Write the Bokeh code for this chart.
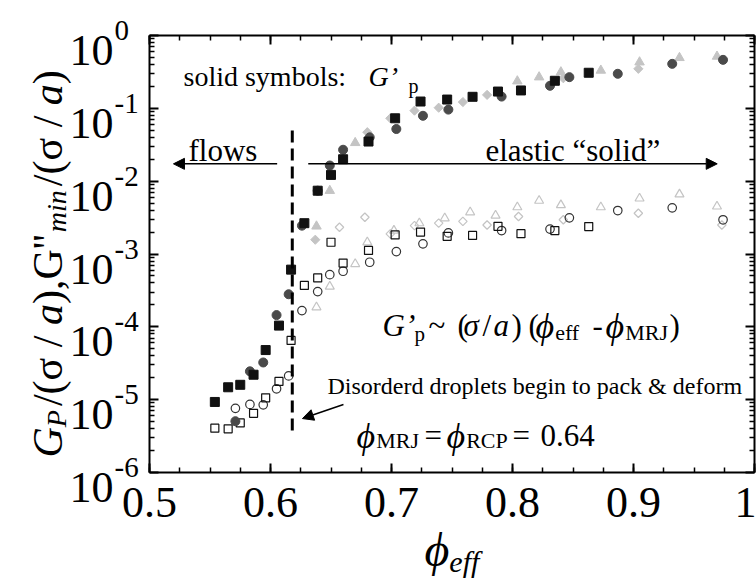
import math
import glob
from bokeh.plotting import figure
from bokeh.models import (LinearAxis, LogAxis, FixedTicker, Label, Arrow, NormalHead,
                          Range1d)
from bokeh.embed import file_html
from bokeh.resources import INLINE

# ---------------- data ----------------
# black squares
sq_phi = [0.554, 0.565, 0.575, 0.586, 0.596, 0.607, 0.617, 0.628, 0.639, 0.650,
          0.660, 0.681, 0.703, 0.724, 0.746, 0.767, 0.788, 0.807, 0.835, 0.863]
sq_Gp = [9.3e-6, 1.48e-5, 1.6e-5, 2.2e-5, 4.8e-5, 1.04e-4, 6.1e-4, 2.65e-3, 7.4e-3, 1.22e-2,
         2.0e-2, 3.5e-2, 7.3e-2, 0.124, 0.132, 0.144, 0.170, 0.176, 0.239, 0.308]
sq_Gmin = [4.06e-6, 3.98e-6, 4.8e-6, 6.5e-6, 1.06e-5, 1.78e-5, 6.5e-5, 3.7e-4, 4.7e-4, 1.45e-3,
           7.5e-4, 1.12e-3, 1.83e-3, 2.0e-3, 1.75e-3, 1.8e-3, 2.4e-3, 1.9e-3, 2.1e-3, 2.38e-3]

# dark grey circles
ci_phi = [0.571, 0.583, 0.594, 0.605, 0.615, 0.626, 0.639, 0.649, 0.660, 0.682,
          0.704, 0.726, 0.747, 0.791, 0.831, 0.847, 0.887, 0.932, 0.974]
ci_Gp = [5.06e-6, 2.45e-5, 3.24e-5, 1.45e-4, 2.8e-4, 2.45e-3, 7.4e-3, 1.64e-2, 2.7e-2, 4.0e-2,
         5.2e-2, 7.9e-2, 9.6e-2, 0.145, 0.204, 0.268, 0.298, 0.408, 0.463]
ci_Gmin = [7.6e-6, 8.6e-6, 8.5e-6, 1.41e-5, 2.12e-5, 1.67e-4, 3.05e-4, 5.2e-4, 5.8e-4, 7.7e-4,
           1.08e-3, 1.38e-3, 1.95e-3, 2.1e-3, 2.2e-3, 3.14e-3, 3.95e-3, 4.3e-3, 2.95e-3]

# light grey triangles
tr_phi_Gp = [0.638, 0.649, 0.670, 0.804, 0.822, 0.840, 0.873, 0.905, 0.938, 0.969]
tr_Gp = [2.4e-3, 7.4e-3, 3.36e-2, 0.236, 0.268, 0.314, 0.331, 0.43, 0.494, 0.515]
tr_phi_Gmin = [0.638, 0.649, 0.670, 0.680, 0.702, 0.723, 0.744, 0.765, 0.786, 0.804,
               0.822, 0.840, 0.873, 0.905, 0.938, 0.969]
tr_Gmin = [1.86e-4, 3.58e-4, 7.3e-4, 1.45e-3, 2.1e-3, 2.65e-3, 3.1e-3, 3.75e-3, 3.38e-3, 4.4e-3,
           5.4e-3, 4.7e-3, 4.4e-3, 5.8e-3, 6.6e-3, 4.5e-3]

# light grey diamonds
di_phi_Gp = [0.637, 0.680, 0.699, 0.719, 0.739, 0.759, 0.779, 0.842, 0.904]
di_Gp = [1.57e-3, 4.7e-2, 7.3e-2, 9.3e-2, 0.102, 0.122, 0.153, 0.259, 0.349]
di_phi_Gmin = [0.657, 0.678, 0.699, 0.719, 0.739, 0.759, 0.779, 0.805, 0.842, 0.904, 0.973]
di_Gmin = [2.33e-3, 3.2e-3, 1.89e-3, 2.45e-3, 2.65e-3, 2.8e-3, 2.5e-3, 3.27e-3, 2.95e-3,
           3.63e-3, 2.5e-3]

# axes
x_ticks = [0.5, 0.6, 0.7, 0.8, 0.9, 1.0]
x_tick_labels = ["0.5", "0.6", "0.7", "0.8", "0.9", "1"]
y_ticks = [1e-6, 1e-5, 1e-4, 1e-3, 1e-2, 1e-1, 1e0]
y_tick_exps = ["-6", "-5", "-4", "-3", "-2", "-1", "0"]
X_MIN, X_MAX = 0.5, 1.0
Y_MIN, Y_MAX = 1e-6, 1.0
phi_line = 0.618

# ---------------- layout constants ----------------
W, H = 756, 582
FL, FT, FR, FB = 149, 35, 754, 472          # where the data box sits on the canvas
SERIF = "Liberation Serif"

ppx = (FR - FL) / (X_MAX - X_MIN)
ppd = (FB - FT) / (math.log10(Y_MAX) - math.log10(Y_MIN))
x0 = X_MIN - FL / ppx
x1 = X_MAX + (W - FR) / ppx
y0 = 10 ** (math.log10(Y_MIN) - (H - FB) / ppd)
y1 = 10 ** (math.log10(Y_MAX) + FT / ppd)

p = figure(width=W, height=H, x_range=Range1d(x0, x1), y_range=Range1d(y0, y1),
           y_axis_type="log", x_axis_location=None, y_axis_location=None,
           output_backend="svg", toolbar_location=None, min_border=0)
p.min_border_left = p.min_border_right = p.min_border_top = p.min_border_bottom = 0
p.grid.visible = False
p.outline_line_color = None
p.background_fill_color = "white"
p.border_fill_color = "white"

x_minor = [round(0.5 + 0.025 * i, 4) for i in range(21)]
y_minor = [m * 10.0 ** e for e in range(-6, 0) for m in range(2, 10)]


def style_axis(ax, labels=False):
    ax.axis_line_width = 2
    ax.axis_line_color = "black"
    ax.major_tick_line_width = 2
    ax.minor_tick_line_width = 1.5
    ax.major_tick_in = 9
    ax.major_tick_out = 0
    ax.minor_tick_in = 5
    ax.minor_tick_out = 0
    ax.axis_label = None
    if not labels:
        ax.major_label_text_color = None
        ax.major_label_text_font_size = "1px"
        ax.major_label_standoff = 0


xb = LinearAxis(ticker=FixedTicker(ticks=x_ticks, minor_ticks=x_minor),
                fixed_location=Y_MIN, bounds=(X_MIN, X_MAX))
style_axis(xb, labels=True)
xb.major_label_overrides = {t: l for t, l in zip(x_ticks, x_tick_labels)}
xb.major_label_text_font = SERIF
xb.major_label_text_font_size = "44px"
xb.major_label_text_color = "black"
xb.major_label_standoff = 15
p.add_layout(xb, "below")

xt = LinearAxis(ticker=FixedTicker(ticks=x_ticks, minor_ticks=x_minor),
                fixed_location=Y_MAX, bounds=(X_MIN, X_MAX))
style_axis(xt)
p.add_layout(xt, "above")

yl = LogAxis(ticker=FixedTicker(ticks=y_ticks, minor_ticks=y_minor),
             fixed_location=X_MIN, bounds=(Y_MIN, Y_MAX))
style_axis(yl)
p.add_layout(yl, "left")

yr = LogAxis(ticker=FixedTicker(ticks=y_ticks, minor_ticks=y_minor),
             fixed_location=X_MAX, bounds=(Y_MIN, Y_MAX))
style_axis(yr)
p.add_layout(yr, "right")


# ---------------- text helpers ----------------
_fonts = {}


def _font(size, italic):
    key = (size, italic)
    if key not in _fonts:
        f = None
        try:
            from PIL import ImageFont
            name = "LiberationSerif-Italic.ttf" if italic else "LiberationSerif-Regular.ttf"
            paths = glob.glob("/usr/share/fonts/**/" + name, recursive=True)
            if paths:
                f = ImageFont.truetype(paths[0], size)
        except Exception:
            f = None
        _fonts[key] = f
    return _fonts[key]


def tw(s, size, italic=False):
    f = _font(size, italic)
    if f is not None:
        try:
            return f.getlength(s)
        except Exception:
            pass
    return 0.47 * size * len(s)


def txt(s, px, py, size, italic=False, angle=0.0, align="left", baseline="alphabetic"):
    p.add_layout(Label(x=px, y=H - py, x_units="screen", y_units="screen", text=s,
                       text_font=SERIF, text_font_size=f"{size}px",
                       text_font_style="italic" if italic else "normal",
                       angle=angle, text_align=align, text_baseline=baseline,
                       text_color="black"))


def run(pieces, px, py, vertical=False):
    """pieces: (text, size, italic, baseline_shift, gap_before); outer spaces become gaps"""
    pos = px if not vertical else py
    sign = -1 if vertical else 1
    for s, sz, it, sh, gap in pieces:
        lead = len(s) - len(s.lstrip(" "))
        trail = len(s) - len(s.rstrip(" "))
        core = s.strip(" ")
        sp = tw(" ", sz, it)
        pos += sign * (gap + lead * sp)
        if vertical:
            txt(core, px + sh, pos, sz, italic=it, angle=math.pi / 2)
        else:
            txt(core, pos, py + sh, sz, italic=it)
        pos += sign * (tw(core, sz, it) + trail * sp)
    return pos


def place(pieces, py):
    """pieces: (text, size, italic, x, baseline_shift) at fixed x positions"""
    for s, sz, it, x, sh in pieces:
        txt(s, x, py + sh, sz, italic=it)


def ypx(v):
    return FB - (math.log10(v) - math.log10(Y_MIN)) * ppd


# y tick labels: "10" with superscript exponent
for t, e in zip(y_ticks, y_tick_exps):
    py = ypx(t)
    txt("10", 113, py + 15, 44, align="right")
    txt(e, 114, py - 5, 29)

# y-axis label (rotated, composed)
run([("G", 42, True, 0, 0), ("P", 28, True, 9, 0), ("/(σ / ", 42, False, 0, 4),
     ("a", 42, True, 0, 0), ("),G''", 42, False, 0, 0), ("min", 28, True, 9, 2),
     ("/(σ / ", 42, False, 0, 4), ("a", 42, True, 0, 0), (")", 42, False, 0, 0)],
    47, 457, vertical=True)

# x-axis label
run([("ϕ", 48, True, 0, 0), ("eff", 30, True, 12, 0)], 424, 549)

# ---------------- data marks ----------------
LG = "#c4c4c4"
DG = "#4a4a4a"
# open symbols (G''min)
p.scatter(di_phi_Gmin, di_Gmin, marker="square", angle=math.pi / 4, size=6,
          fill_color=None, line_color=LG, line_width=1.2)
p.scatter(tr_phi_Gmin, tr_Gmin, marker="triangle", size=9, fill_color=None,
          line_color=LG, line_width=1.2)
p.scatter(ci_phi, ci_Gmin, marker="circle", size=8.5, fill_color=None,
          line_color="#333333", line_width=1.2)
p.scatter(sq_phi, sq_Gmin, marker="square", size=8, fill_color=None,
          line_color="#111111", line_width=1.2)
# solid symbols (G'p)
p.scatter(di_phi_Gp, di_Gp, marker="square", angle=math.pi / 4, size=6.5,
          fill_color=LG, line_color=LG)
p.scatter(tr_phi_Gp, tr_Gp, marker="triangle", size=9.5, fill_color=LG, line_color=LG)
p.scatter(ci_phi, ci_Gp, marker="circle", size=9, fill_color=DG, line_color=DG)
p.scatter(sq_phi, sq_Gp, marker="square", size=9, fill_color="#111111", line_color="#111111")

# ---------------- annotations ----------------
p.segment(x0=[phi_line], y0=[0.0497], x1=[phi_line], y1=[3.2e-6], line_color="black",
          line_width=3, line_dash="12 6")


def arrow(xs, ys, xe, ye):
    p.add_layout(Arrow(end=NormalHead(size=11, fill_color="black", line_color="black"),
                       x_start=xs, y_start=ys, x_end=xe, y_end=ye, line_width=1.5))


arrow(0.6055, 0.0173, 0.5198, 0.0173)
arrow(0.6312, 0.0173, 0.9692, 0.0173)
arrow(0.6603, 8.6e-6, 0.6264, 5.5e-6)

txt("solid symbols:", 183, 76, 28)
txt("G’", 368, 76, 28, italic=True)
txt("p", 408, 85, 20)

txt("flows", 188, 150, 31)
txt("elastic “solid”", 485, 150, 31)

place([("G’", 31, True, 382, 0), ("p", 21, False, 414, 8), ("~", 31, False, 428, 0),
       ("(", 31, False, 457, 0), ("σ", 31, True, 463, 0), ("/", 31, False, 482, 0),
       ("a", 31, True, 493, 0), (")", 31, False, 511, 0), ("(", 31, False, 528, 0),
       ("-", 31, False, 592, 0), (")", 31, False, 669, 0)], 325)
run([("ϕ", 36, True, 0, 0), ("eff", 22, False, 7, 1)], 535, 325)
run([("ϕ", 36, True, 0, 0), ("MRJ", 22, False, 7, 1)], 605, 325)

txt("Disorderd droplets begin to pack & deform", 327, 385, 24)

run([("ϕ", 36, True, 0, 0), ("MRJ", 22, False, 5, 1)], 356, 435)
run([("ϕ", 36, True, 0, 0), ("RCP", 22, False, 5, 1)], 446, 435)
place([("=", 31, False, 424, 0), ("=", 31, False, 512, 0), ("0.64", 31, False, 540, 0)], 435)

open("out.html", "w").write(file_html(p, INLINE))
